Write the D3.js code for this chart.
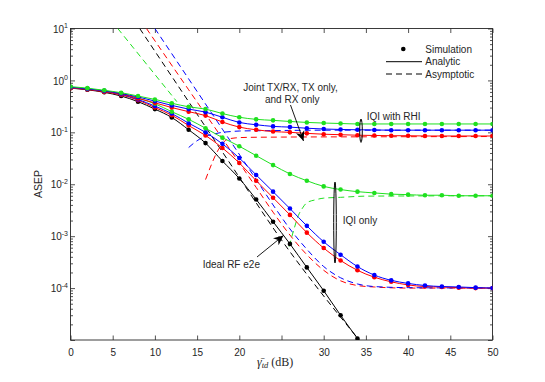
<!DOCTYPE html>
<html>
<head>
<meta charset="utf-8">
<script src="https://cdnjs.cloudflare.com/ajax/libs/d3/7.8.5/d3.min.js"></script>
<style>
  body { margin: 0; background: #fff; }
  svg { display: block; }
  text { font-family: "Liberation Sans", Arial, Helvetica, sans-serif; fill: #262626; }
</style>
</head>
<body>
<div id="chart"></div>
<script>
// snr grid of the markers (dB)
var snr_db = [0, 2, 4, 6, 8, 10, 12, 14, 16, 18, 20, 22, 24, 26, 28, 30, 32, 34, 36, 38, 40, 42, 44, 46, 48, 50];

// ideal RF e2e, only down to the bottom of the axes (0..34 dB)
var ideal = [0.71, 0.66, 0.59, 0.50, 0.39, 0.28, 0.193, 0.112, 0.062, 0.028, 0.0129, 5.1e-3, 1.9e-3, 7.1e-4, 2.5e-4, 8.9e-5, 3.0e-5, 1.07e-5];

// IQI with RHI (joint TX/RX, TX only, RX only)
var rhi_green = [0.76, 0.71, 0.645, 0.58, 0.50, 0.43, 0.363, 0.31, 0.28, 0.23, 0.195, 0.178, 0.17, 0.162, 0.155, 0.151, 0.148, 0.145, 0.145, 0.145, 0.145, 0.145, 0.145, 0.145, 0.145, 0.145];
var rhi_blue = [0.74, 0.69, 0.63, 0.56, 0.48, 0.40, 0.33, 0.28, 0.245, 0.195, 0.155, 0.14, 0.13, 0.126, 0.12, 0.116, 0.1135, 0.112, 0.111, 0.11, 0.11, 0.11, 0.11, 0.11, 0.11, 0.11];
var rhi_red = [0.72, 0.68, 0.62, 0.55, 0.45, 0.37, 0.30, 0.25, 0.21, 0.158, 0.126, 0.112, 0.1035, 0.10, 0.0955, 0.092, 0.090, 0.088, 0.087, 0.086, 0.086, 0.085, 0.085, 0.085, 0.085, 0.085];

// IQI only
var iqi_green = [0.74, 0.69, 0.63, 0.56, 0.457, 0.355, 0.25, 0.178, 0.12, 0.079, 0.054, 0.0355, 0.0234, 0.0158, 0.0117, 9.1e-3, 7.9e-3, 7.2e-3, 6.8e-3, 6.45e-3, 6.3e-3, 6.15e-3, 6.15e-3, 6.0e-3, 6.0e-3, 6.0e-3];
var iqi_blue = [0.72, 0.68, 0.62, 0.54, 0.43, 0.32, 0.23, 0.15, 0.10, 0.060, 0.032, 0.0151, 7.2e-3, 3.4e-3, 1.58e-3, 7.8e-4, 4.4e-4, 2.6e-4, 1.78e-4, 1.41e-4, 1.23e-4, 1.12e-4, 1.07e-4, 1.05e-4, 1.02e-4, 1.0e-4];
var iqi_red = [0.71, 0.67, 0.60, 0.525, 0.417, 0.30, 0.214, 0.135, 0.087, 0.050, 0.0257, 0.0117, 5.5e-3, 2.57e-3, 1.17e-3, 5.9e-4, 3.4e-4, 2.2e-4, 1.62e-4, 1.32e-4, 1.15e-4, 1.07e-4, 1.05e-4, 1.02e-4, 1.0e-4, 1.0e-4];

// asymptotic curves, each with its own snr points
var asy_ideal_x = [8.2, 18.5, 25.2, 34.2];
var asy_ideal = [10, 0.0316, 7.6e-4, 1e-5];
var asy_green_hi_x = [5.6, 12.6];
var asy_green_hi = [10, 0.39];
var asy_blue_x = [10, 14, 18, 22, 24, 26, 28, 30, 32, 34, 36, 40, 50];
var asy_blue = [10, 1.07, 0.115, 0.0123, 4.0e-3, 1.38e-3, 5.6e-4, 2.6e-4, 1.58e-4, 1.2e-4, 1.07e-4, 1.02e-4, 1.0e-4];
var asy_red_x = [9.0, 14, 18, 22, 24, 26, 28, 30, 32, 34, 36, 40, 50];
var asy_red = [10, 0.66, 0.076, 8.7e-3, 2.9e-3, 1.05e-3, 4.4e-4, 2.2e-4, 1.38e-4, 1.12e-4, 1.05e-4, 1.0e-4, 1.0e-4];
var asy_rhi_blue_x = [14, 15, 16, 17, 18, 19, 20, 24, 30, 50];
var asy_rhi_blue = [0.051, 0.069, 0.083, 0.093, 0.10, 0.1035, 0.106, 0.108, 0.11, 0.11];
var asy_rhi_red_x = [16, 16.7, 17.3, 18, 18.5, 19.5, 21, 25, 35, 50];
var asy_rhi_red = [0.0123, 0.024, 0.040, 0.060, 0.072, 0.078, 0.080, 0.081, 0.082, 0.083];
var asy_iqi_green_x = [25.9, 26.5, 27, 27.5, 28, 29, 30, 32, 35, 40, 50];
var asy_iqi_green = [6.3e-4, 1.4e-3, 2.5e-3, 3.5e-3, 4.4e-3, 5.0e-3, 5.4e-3, 5.6e-3, 5.9e-3, 5.95e-3, 6.0e-3];

// ticks ("25" has no label in the original, the x label sits there)
var x_ticks = [0, 5, 10, 15, 20, 25, 30, 35, 40, 45, 50];
var x_tick_labels = ['0', '5', '10', '15', '20', '', '30', '35', '40', '45', '50'];
var y_decades = [1e-5, 1e-4, 1e-3, 1e-2, 1e-1, 1, 10];
var y_exponents = ['', '-4', '-3', '-2', '-1', '0', '1'];

var green = '#1fe01f', blue = '#0000ff', red = '#ff0000', black = '#000';
var axis_color = '#262626';

var W = 545, H = 382;
var m_left = 70.5, m_right = 492.5, m_top = 28.5, m_bottom = 340;

var svg = d3.select('#chart').append('svg')
  .attr('width', W)
  .attr('height', H)
  .style('background-color', '#fff');

var x = d3.scaleLinear().domain([0, 50]).range([m_left, m_right]);
var y = d3.scaleLog().domain([1e-5, 10]).range([m_bottom, m_top]);

var defs = svg.append('defs');
defs.append('clipPath').attr('id', 'plotclip')
  .append('rect')
  .attr('x', m_left).attr('y', m_top)
  .attr('width', m_right - m_left).attr('height', m_bottom - m_top);

defs.append('marker')
  .attr('id', 'ahead')
  .attr('markerUnits', 'userSpaceOnUse')
  .attr('markerWidth', 11).attr('markerHeight', 9)
  .attr('refX', 10).attr('refY', 4.5)
  .attr('orient', 'auto')
  .append('path')
  .attr('d', 'M0,0 L10,4.5 L0,9 L3,4.5 Z')
  .attr('fill', '#000');

// minor ticks for the log axis
var y_minor = [];
y_decades.slice(0, -1).forEach(function(d) {
  for (var k = 2; k <= 9; k++) y_minor.push(d * k);
});

function clean(g) {
  g.select('.domain').remove();
  g.selectAll('.tick line').attr('stroke', axis_color).attr('stroke-width', 0.8);
}

// x axes (bottom with labels, top ticks only)
svg.append('g')
  .attr('transform', 'translate(0,' + m_bottom + ')')
  .call(d3.axisBottom(x).tickValues(x_ticks).tickSizeInner(-4.5).tickSizeOuter(0).tickPadding(8.5)
    .tickFormat(function(d, i) { return x_tick_labels[i]; }))
  .call(clean)
  .selectAll('text').attr('font-size', 10).attr('fill', axis_color)
  .style('font-family', '"Liberation Sans", Arial, sans-serif');

svg.append('g')
  .attr('transform', 'translate(0,' + m_top + ')')
  .call(d3.axisTop(x).tickValues(x_ticks).tickSizeInner(-4.5).tickSizeOuter(0).tickFormat(''))
  .call(clean);

// y axes
var yl = svg.append('g')
  .attr('transform', 'translate(' + m_left + ',0)')
  .call(d3.axisLeft(y).tickValues(y_decades).tickSizeInner(-4.5).tickSizeOuter(0).tickFormat(''))
  .call(clean);
svg.append('g')
  .attr('transform', 'translate(' + m_left + ',0)')
  .call(d3.axisLeft(y).tickValues(y_minor).tickSizeInner(-2.5).tickSizeOuter(0).tickFormat(''))
  .call(clean);
svg.append('g')
  .attr('transform', 'translate(' + m_right + ',0)')
  .call(d3.axisRight(y).tickValues(y_decades).tickSizeInner(-4.5).tickSizeOuter(0).tickFormat(''))
  .call(clean);
svg.append('g')
  .attr('transform', 'translate(' + m_right + ',0)')
  .call(d3.axisRight(y).tickValues(y_minor).tickSizeInner(-2.5).tickSizeOuter(0).tickFormat(''))
  .call(clean);

// y tick labels 10^n
yl.selectAll('.tick').each(function(d, i) {
  if (!y_exponents[i]) return;
  var t = d3.select(this).append('text')
    .attr('x', -2.5)
    .attr('y', 3.6)
    .attr('text-anchor', 'end')
    .attr('font-size', 10)
    .attr('fill', axis_color);
  t.append('tspan').text('10');
  t.append('tspan').attr('dy', -4.5).attr('font-size', 7).text(y_exponents[i]);
});

// box
svg.append('rect')
  .attr('x', m_left).attr('y', m_top)
  .attr('width', m_right - m_left).attr('height', m_bottom - m_top)
  .attr('fill', 'none')
  .attr('stroke', axis_color)
  .attr('stroke-width', 0.9);

var plot = svg.append('g').attr('clip-path', 'url(#plotclip)');

var line = d3.line()
  .x(function(d) { return x(d[0]); })
  .y(function(d) { return y(d[1]); })
  .curve(d3.curveMonotoneX);

function pairs(xs, ys) {
  return ys.map(function(v, i) { return [xs[i], v]; });
}

function dashed(xs, ys, color) {
  plot.append('path')
    .datum(pairs(xs, ys))
    .attr('d', line)
    .attr('fill', 'none')
    .attr('stroke', color)
    .attr('stroke-width', 1)
    .attr('stroke-dasharray', '6,4');
}

function analytic(ys, color) {
  var pts = pairs(snr_db, ys);
  plot.append('path')
    .datum(pts)
    .attr('d', line)
    .attr('fill', 'none')
    .attr('stroke', color)
    .attr('stroke-width', 1);
  plot.selectAll(null)
    .data(pts)
    .enter().append('circle')
    .attr('cx', function(d) { return x(d[0]); })
    .attr('cy', function(d) { return y(d[1]); })
    .attr('r', 2.3)
    .attr('fill', color);
}

// asymptotes
dashed(asy_green_hi_x, asy_green_hi, green);
dashed(asy_ideal_x, asy_ideal, black);
dashed(asy_red_x, asy_red, red);
dashed(asy_blue_x, asy_blue, blue);
dashed(asy_rhi_blue_x, asy_rhi_blue, blue);
dashed(asy_rhi_red_x, asy_rhi_red, red);
dashed(asy_iqi_green_x, asy_iqi_green, green);

// analytic + simulation
analytic(ideal, black);
analytic(iqi_red, red);
analytic(iqi_blue, blue);
analytic(iqi_green, green);
analytic(rhi_red, red);
analytic(rhi_blue, blue);
analytic(rhi_green, green);

// axis labels
svg.append('text')
  .attr('transform', 'translate(41.5,184) rotate(-90)')
  .attr('text-anchor', 'middle')
  .attr('font-size', 10.5)
  .attr('fill', axis_color)
  .text('ASEP');

var xl = svg.append('text')
  .attr('x', 257)
  .attr('y', 366)
  .attr('fill', '#444')
  .style('font-family', '"Liberation Serif", "DejaVu Serif", serif')
  .attr('font-size', 12);
xl.append('tspan').attr('font-style', 'italic').text('\u03B3\u0304');
xl.append('tspan').attr('font-style', 'italic').attr('font-size', 8.5).attr('dy', 2).text('td');
xl.append('tspan').attr('dy', -2).text(' (dB)');

// annotations
function note(tx, ty, str) {
  svg.append('text')
    .attr('x', tx).attr('y', ty)
    .attr('font-size', 10)
    .attr('fill', '#000')
    .text(str);
}
note(243.3, 90.5, 'Joint TX/RX, TX only,');
note(265, 102.6, 'and RX only');
note(366.7, 120.3, 'IQI with RHI');
note(342.7, 224.3, 'IQI only');
note(202.7, 267.6, 'Ideal RF e2e');

svg.append('line')
  .attr('x1', 290.5).attr('y1', 105)
  .attr('x2', 303.5).attr('y2', 141)
  .attr('stroke', '#000').attr('stroke-width', 0.9)
  .attr('marker-end', 'url(#ahead)');
svg.append('line')
  .attr('x1', 257).attr('y1', 257)
  .attr('x2', 283.5).attr('y2', 235.5)
  .attr('stroke', '#000').attr('stroke-width', 0.9)
  .attr('marker-end', 'url(#ahead)');

svg.append('ellipse')
  .attr('cx', 361).attr('cy', 130.7)
  .attr('rx', 1.3).attr('ry', 11.7)
  .attr('fill', 'none').attr('stroke', '#000').attr('stroke-width', 1);
svg.append('ellipse')
  .attr('cx', 335).attr('cy', 222.5)
  .attr('rx', 1.3).attr('ry', 40.5)
  .attr('fill', 'none').attr('stroke', '#000').attr('stroke-width', 1);

// legend
var lg = svg.append('g');
lg.append('circle').attr('cx', 403.3).attr('cy', 49).attr('r', 2.3).attr('fill', '#000');
lg.append('line').attr('x1', 386).attr('x2', 422).attr('y1', 61.7).attr('y2', 61.7)
  .attr('stroke', '#000').attr('stroke-width', 1);
lg.append('line').attr('x1', 386).attr('x2', 422).attr('y1', 74).attr('y2', 74)
  .attr('stroke', '#000').attr('stroke-width', 1).attr('stroke-dasharray', '6,4');
note(425.3, 52.6, 'Simulation');
note(425.3, 65.3, 'Analytic');
note(425.3, 77.6, 'Asymptotic');
</script>
</body>
</html>
